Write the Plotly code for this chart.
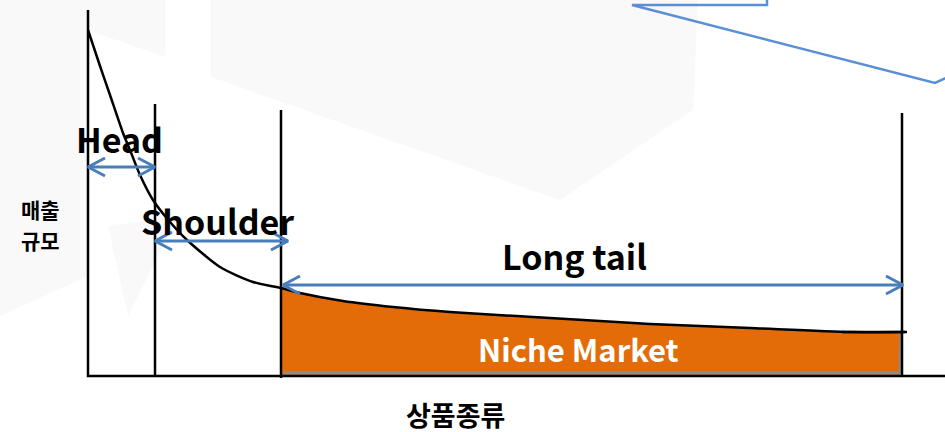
import plotly.graph_objects as go

# ---- data (x = product rank, y = sales volume) ----
curve_x = [0, 12, 22, 35, 42, 52, 65, 82, 99, 132, 165, 193, 212, 255, 305, 362, 462, 562, 662, 762, 817]
curve_y = [346, 310, 281, 243, 226, 201, 176, 154, 136, 109, 94, 88, 83, 75, 69, 64, 58, 52, 48, 44, 44]

head_end = 67        # end of the head segment
shoulder_end = 193   # end of the shoulder segment
tail_end = 814       # end of the long tail
axis_top = 366
div_tops = [272, 266, 263]

segment_labels = ["Head", "Shoulder", "Long tail"]
niche_label = "Niche Market"
y_title_lines = ["매출", "규모"]
x_title = "상품종류"

BLUE = "#4a7ebb"
CALLOUT = "#5a8ed6"
ORANGE = "#e36c09"
FONT = "Noto Sans CJK KR"

fig = go.Figure()

# faint watermark shapes in the background
watermarks = [
    [(-88, 376), (0, 376), (0, 100), (-88, 60)],
    [(0, 376), (77, 376), (77, 319), (0, 346)],
    [(123, 376), (610, 376), (605, 266), (472, 176), (123, 299)],
    [(20, 150), (90, 160), (40, 60)],
]
for poly in watermarks:
    xs = [p[0] for p in poly] + [poly[0][0]]
    ys = [p[1] for p in poly] + [poly[0][1]]
    fig.add_trace(go.Scatter(x=xs, y=ys, mode="lines", fill="toself",
                             fillcolor="#f9f9f9", line=dict(width=0),
                             hoverinfo="skip", showlegend=False))

# niche market fill (long tail region under the curve)
tail_x = [x for x in curve_x if shoulder_end <= x <= tail_end - 2]
tail_y = [curve_y[curve_x.index(x)] for x in tail_x]
tail_x.append(tail_end - 2)
tail_y.append(44)
fig.add_trace(go.Scatter(x=tail_x, y=tail_y, mode="lines", fill="tozeroy",
                         fillcolor=ORANGE, line=dict(width=0, shape="spline"),
                         hoverinfo="skip", showlegend=False))
fig.add_trace(go.Scatter(x=[shoulder_end + 2, tail_end - 2, tail_end - 1], y=[3, 3, 44],
                         mode="lines", line=dict(color="#8c8c8c", width=3),
                         hoverinfo="skip", showlegend=False))

# demand curve
fig.add_trace(go.Scatter(x=curve_x, y=curve_y, mode="lines",
                         line=dict(color="black", width=2.5, shape="spline", smoothing=0.7),
                         hoverinfo="skip", showlegend=False))
fig.add_trace(go.Scatter(x=[tail_end - 60, tail_end + 5], y=[44, 44], mode="lines",
                         line=dict(color="black", width=2.5),
                         hoverinfo="skip", showlegend=False))

# axes and dividers
fig.add_trace(go.Scatter(x=[0, 0, 857], y=[axis_top, 0, 0], mode="lines",
                         line=dict(color="black", width=2.5),
                         hoverinfo="skip", showlegend=False))
for xv, top, bot in zip([head_end, shoulder_end, tail_end], div_tops, [0, -2, 0]):
    fig.add_trace(go.Scatter(x=[xv, xv], y=[bot, top], mode="lines",
                             line=dict(color="black", width=2.5),
                             hoverinfo="skip", showlegend=False))

# double arrows
arrows = [(0, head_end, 209), (head_end, shoulder_end + 7, 135), (shoulder_end + 2, tail_end + 1, 91)]
for x0, x1, y in arrows:
    fig.add_trace(go.Scatter(x=[x0, x1], y=[y, y], mode="lines",
                             line=dict(color=BLUE, width=3),
                             hoverinfo="skip", showlegend=False))
    for tip, d in ((x0, 1), (x1, -1)):
        fig.add_trace(go.Scatter(x=[tip + d * 17, tip, tip + d * 17], y=[y + 9, y, y - 9],
                                 mode="lines", line=dict(color=BLUE, width=3),
                                 hoverinfo="skip", showlegend=False))

# callout outline at the top right
fig.add_trace(go.Scatter(x=[679, 679, 544, 847, 862], y=[380, 371, 371, 293, 300],
                         mode="lines", line=dict(color=CALLOUT, width=2.5),
                         hoverinfo="skip", showlegend=False))

# labels
ann = [
    dict(x=31, y=238, text=segment_labels[0], size=34, color="black"),
    dict(x=129, y=156, text=segment_labels[1], size=34, color="black"),
    dict(x=486, y=121, text=segment_labels[2], size=34, color="black"),
    dict(x=490, y=28, text=niche_label, size=31, color="white"),
]
for a in ann:
    fig.add_annotation(x=a["x"], y=a["y"], text="<b>%s</b>" % a["text"], showarrow=False,
                       font=dict(family=FONT, size=a["size"], color=a["color"]))
for txt, yv in zip(y_title_lines, [167, 136]):
    fig.add_annotation(x=-48, y=yv, text="<b>%s</b>" % txt, showarrow=False, height=26,
                       font=dict(family=FONT, size=21, color="black"))
fig.add_annotation(x=367, y=-38, text="<b>%s</b>" % x_title, showarrow=False, height=30,
                   font=dict(family=FONT, size=27, color="black"))

fig.update_layout(
    width=945, height=432, autosize=False,
    margin=dict(l=0, r=0, t=0, b=0),
    paper_bgcolor="white", plot_bgcolor="white",
    xaxis=dict(range=[-88, 857], visible=False, fixedrange=True),
    yaxis=dict(range=[-56, 376], visible=False, fixedrange=True),
    showlegend=False,
)

fig.write_html("out.html")
